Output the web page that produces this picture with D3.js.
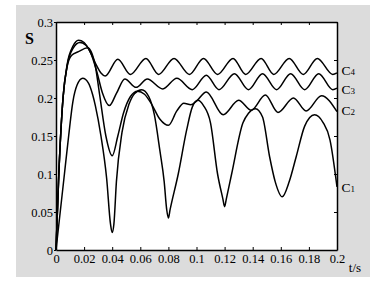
<!DOCTYPE html>
<html>
<head>
<meta charset="UTF-8">
<title>S vs t</title>
<script src="https://cdn.jsdelivr.net/npm/d3@7/dist/d3.min.js"></script>
<style>
  body { margin: 0; background: #fff; }
  text { font-family: "Liberation Serif", "DejaVu Serif", serif; fill: #000; }
</style>
</head>
<body>
<script>
  // tick values + labels
  const xTicks = [0, 0.02, 0.04, 0.06, 0.08, 0.1, 0.12, 0.14, 0.16, 0.18, 0.2];
  const xTickLabels = ["0", "0.02", "0.04", "0.06", "0.08", "0.1", "0.12", "0.14", "0.16", "0.18", "0.2"];
  const yTicks = [0, 0.05, 0.1, 0.15, 0.2, 0.25, 0.3];
  const yTickLabels = ["0", "0.05", "0.1", "0.15", "0.2", "0.25", "0.3"];

  // curves as [t, S]
  const c1 = [[0, 0], [0.003, 0.05], [0.006, 0.1], [0.009, 0.15], [0.012, 0.195], [0.015, 0.217], [0.019, 0.226],
    [0.023, 0.22], [0.026, 0.205], [0.028, 0.19], [0.032, 0.15], [0.036, 0.095], [0.0388, 0.034], [0.04, 0.023],
    [0.0412, 0.034], [0.043, 0.09], [0.047, 0.155], [0.052, 0.192], [0.056, 0.206], [0.061, 0.211], [0.066, 0.202],
    [0.07, 0.178], [0.074, 0.13], [0.077, 0.09], [0.0788, 0.053], [0.08, 0.042], [0.0812, 0.053], [0.087, 0.1],
    [0.093, 0.158], [0.097, 0.188], [0.101, 0.197], [0.105, 0.19], [0.11, 0.167], [0.115, 0.1], [0.1188, 0.067],
    [0.12, 0.057], [0.1212, 0.067], [0.125, 0.1], [0.133, 0.167], [0.137, 0.18], [0.142, 0.186], [0.147, 0.175],
    [0.152, 0.123], [0.156, 0.09], [0.161, 0.07], [0.166, 0.09], [0.171, 0.123], [0.177, 0.163],
    [0.184, 0.178], [0.19, 0.168], [0.195, 0.145], [0.2, 0.083]];

  const c2 = [[0, 0], [0.002, 0.1], [0.005, 0.2], [0.008, 0.242], [0.011, 0.256], [0.016, 0.261], [0.0225, 0.266],
    [0.025, 0.261], [0.028, 0.242], [0.031, 0.205], [0.0355, 0.15], [0.04, 0.124], [0.044, 0.15], [0.048, 0.18],
    [0.053, 0.202], [0.058, 0.209], [0.063, 0.205], [0.068, 0.192], [0.074, 0.172], [0.08, 0.164], [0.086, 0.183],
    [0.091, 0.193], [0.096, 0.191], [0.1, 0.196], [0.107, 0.208], [0.119, 0.178], [0.13, 0.197], [0.139, 0.184],
    [0.149, 0.204], [0.158, 0.181], [0.169, 0.2], [0.178, 0.183], [0.189, 0.203], [0.2, 0.182]];

  const c3 = [[0, 0], [0.002, 0.1], [0.005, 0.2], [0.008, 0.243], [0.012, 0.265], [0.017, 0.273], [0.021, 0.27],
    [0.025, 0.258], [0.029, 0.235], [0.033, 0.207], [0.038, 0.19], [0.043, 0.206], [0.049, 0.225], [0.057, 0.214],
    [0.065, 0.225], [0.076, 0.212], [0.086, 0.226], [0.097, 0.211], [0.107, 0.23], [0.116, 0.211], [0.127, 0.232],
    [0.137, 0.211], [0.147, 0.232], [0.157, 0.211], [0.167, 0.232], [0.177, 0.211], [0.187, 0.232], [0.197, 0.211],
    [0.2, 0.213]];

  const c4 = [[0, 0], [0.002, 0.1], [0.005, 0.2], [0.008, 0.245], [0.012, 0.268], [0.016, 0.276], [0.02, 0.273],
    [0.024, 0.262], [0.028, 0.246], [0.032, 0.233], [0.035, 0.229], [0.044, 0.251], [0.053, 0.231], [0.064, 0.252],
    [0.073, 0.231], [0.084, 0.252], [0.095, 0.231], [0.105, 0.252], [0.115, 0.231], [0.126, 0.252], [0.135, 0.231],
    [0.146, 0.252], [0.155, 0.231], [0.166, 0.252], [0.176, 0.231], [0.186, 0.252], [0.197, 0.231], [0.2, 0.233]];

  const curveNames = ["1", "2", "3", "4"];
  const curves = [c1, c2, c3, c4];

  const w = 383, h = 287;
  const plotL = 56, plotR = 337, plotT = 22, plotB = 250;

  const svg = d3.select("body").append("svg")
    .attr("width", w)
    .attr("height", h);

  // grey panel behind everything
  svg.append("rect")
    .attr("x", 16).attr("y", 5)
    .attr("width", 354).attr("height", 272)
    .attr("fill", "#dcdcdc");

  svg.append("rect")
    .attr("x", plotL).attr("y", plotT)
    .attr("width", plotR - plotL).attr("height", plotB - plotT)
    .attr("fill", "#fff");

  const xScale = d3.scaleLinear().domain([0, 0.2]).range([plotL, plotR]);
  const yScale = d3.scaleLinear().domain([0, 0.3]).range([plotB, plotT]);

  const line = d3.line()
    .x(d => xScale(d[0]))
    .y(d => yScale(d[1]))
    .curve(d3.curveMonotoneX);

  svg.selectAll("path.curve")
    .data(curves)
    .enter()
    .append("path")
    .attr("class", "curve")
    .attr("d", d => line(d))
    .attr("fill", "none")
    .attr("stroke", "#000")
    .attr("stroke-width", 1.5);

  // axes: inward ticks on bottom/top/right, short outward on left
  const xAxis = d3.axisBottom(xScale)
    .tickValues(xTicks)
    .tickFormat((d, i) => xTickLabels[i])
    .tickSizeInner(-3).tickSizeOuter(0).tickPadding(4);

  svg.append("g")
    .attr("transform", "translate(0," + plotB + ")")
    .call(xAxis);

  const yAxis = d3.axisLeft(yScale)
    .tickValues(yTicks)
    .tickFormat((d, i) => yTickLabels[i])
    .tickSizeInner(2).tickSizeOuter(0).tickPadding(1);

  svg.append("g")
    .attr("transform", "translate(" + plotL + ",0)")
    .call(yAxis);

  svg.append("g")
    .attr("transform", "translate(0," + plotT + ")")
    .call(d3.axisTop(xScale).tickValues(xTicks).tickFormat("").tickSizeInner(-3).tickSizeOuter(0));

  svg.append("g")
    .attr("transform", "translate(" + plotR + ",0)")
    .call(d3.axisRight(yScale).tickValues(yTicks).tickFormat("").tickSizeInner(-3).tickSizeOuter(0));

  svg.selectAll(".domain").attr("stroke", "#000").attr("stroke-width", 1.5);
  svg.selectAll(".tick line").attr("stroke", "#000").attr("stroke-width", 1);
  svg.selectAll(".tick text")
    .style("font-family", "'Liberation Serif', serif")
    .style("font-size", "12.5px")
    .attr("fill", "#000");

  // axis titles
  svg.append("text")
    .attr("x", 29.5).attr("y", 44)
    .attr("text-anchor", "middle")
    .style("font-size", "16px")
    .style("font-weight", "bold")
    .text("S");

  svg.append("text")
    .attr("x", 355).attr("y", 272)
    .attr("text-anchor", "middle")
    .style("font-size", "13px")
    .text("t/s");

  // curve labels at right edge
  const labelBaseline = [191.5, 115, 94, 75];
  curveNames.forEach((n, i) => {
    const t = svg.append("text")
      .attr("x", 341.5)
      .attr("y", labelBaseline[i])
      .style("font-size", "13.5px");
    t.append("tspan").text("C");
    t.append("tspan").style("font-size", "9px").text(n);
  });
</script>
</body>
</html>
